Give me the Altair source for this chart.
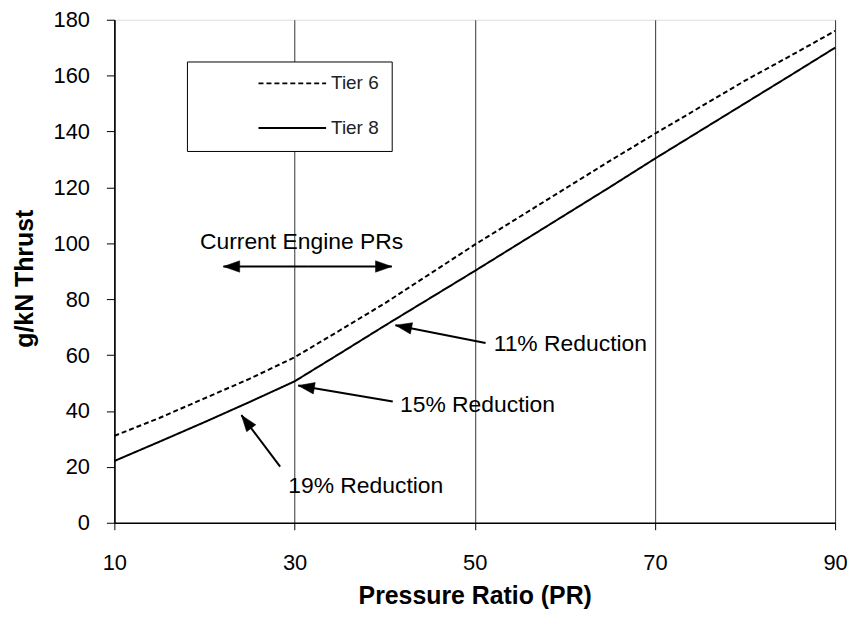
import math
import altair as alt
import pandas as pd

# ---- data ----
pressure_ratio = [10, 15, 20, 25, 30, 35, 40, 45, 50, 55, 60, 65, 70, 75, 80, 85, 90]
tier6 = [31.1, 37.5, 44.5, 51.5, 59.2, 68.8, 78.5, 89.0, 99.5, 109.5, 119.5, 129.5, 139.2, 148.7, 158.2, 167.0, 176.0]
tier8 = [22.1, 29.0, 36.0, 43.2, 50.6, 60.5, 70.5, 80.3, 90.1, 100.1, 110.1, 120.1, 130.3, 140.2, 150.1, 160.0, 170.0]
series_names = ["Tier 6", "Tier 8"]

x_ticks = [10, 30, 50, 70, 90]
y_ticks = [0, 20, 40, 60, 80, 100, 120, 140, 160, 180]

# annotations (data coordinates)
ann_text = ["Current Engine PRs", "11% Reduction", "15% Reduction", "19% Reduction"]
ann_x = [19.5, 52.1, 41.7, 29.3]
ann_y = [100.6, 63.9, 42.0, 13.1]

# arrows: tail -> tip (data coordinates)
arrow_x = [51.2, 40.9, 28.4, 31.5, 31.5]
arrow_y = [64.3, 43.4, 20.1, 91.7, 91.7]
arrow_x2 = [41.2, 30.4, 24.1, 22.1, 40.8]
arrow_y2 = [70.7, 49.1, 38.5, 91.7, 91.7]

W, H = 725, 506
FONT = "Liberation Sans"

lines_df = pd.DataFrame({
    "PR": pressure_ratio * 2,
    "value": tier6 + tier8,
    "series": [series_names[0]] * len(pressure_ratio) + [series_names[1]] * len(pressure_ratio),
})

x_scale = alt.Scale(domain=[10, 90], nice=False, zero=False)
y_scale = alt.Scale(domain=[0, 180], nice=False)

x_px = W / 80.0
y_px = H / 180.0
angles = []
for a, b, c, d in zip(arrow_x, arrow_y, arrow_x2, arrow_y2):
    dx = (c - a) * x_px
    dy = -(d - b) * y_px
    angles.append(math.degrees(math.atan2(dx, -dy)) % 360)

arrows_df = pd.DataFrame({"x": arrow_x, "y": arrow_y, "x2": arrow_x2, "y2": arrow_y2, "angle": angles})
ann_df = pd.DataFrame({"text": ann_text, "x": ann_x, "y": ann_y})

lines = alt.Chart(lines_df).mark_line(color="black", strokeWidth=2).encode(
    x=alt.X("PR:Q", scale=x_scale,
            axis=alt.Axis(values=x_ticks, title="Pressure Ratio (PR)", grid=True,
                          gridColor="#333333", gridWidth=1, tickSize=7, tickColor="black",
                          domainColor="black", domainWidth=1.5, labelFlush=False,
                          labelFont=FONT, labelFontSize=22, labelColor="black", labelPadding=23,
                          titleFont=FONT, titleFontSize=25, titleFontWeight="bold", titleColor="black",
                          titleY=81, titleBaseline="alphabetic")),
    y=alt.Y("value:Q", scale=y_scale,
            axis=alt.Axis(values=y_ticks, title="g/kN Thrust", grid=False, tickSize=8,
                          tickColor="black", domainColor="black", domainWidth=1.5, labelFlush=False,
                          labelFont=FONT, labelFontSize=22, labelColor="black", labelPadding=17,
                          titleFont=FONT, titleFontSize=25, titleFontWeight="bold", titleColor="black",
                          titleX=-82, titleY=260, titleAngle=270, titleBaseline="alphabetic",
                          titleAlign="center")),
    strokeDash=alt.StrokeDash("series:N",
                              scale=alt.Scale(domain=series_names, range=[[5, 3], [1, 0]]),
                              legend=alt.Legend(orient="none", legendX=73, legendY=42, title=None,
                                                symbolType="stroke", symbolSize=4624,
                                                symbolStrokeWidth=2, symbolStrokeColor="black",
                                                symbolOffset=58, labelOffset=4, padding=13,
                                                rowPadding=26, clipHeight=18,
                                                strokeColor="black", fillColor="white",
                                                labelFont=FONT, labelFontSize=19, labelColor="#222222")),
    detail="series:N",
)

shafts = alt.Chart(arrows_df).mark_rule(color="black", strokeWidth=2).encode(
    x=alt.X("x:Q", scale=x_scale), y=alt.Y("y:Q", scale=y_scale),
    x2="x2:Q", y2="y2:Q",
)

heads = alt.Chart(arrows_df).mark_point(
    shape="M0,0L-0.7,2L0.7,2Z", filled=True, fill="black", stroke="black", strokeWidth=0.5,
    size=270, opacity=1,
).encode(
    x=alt.X("x2:Q", scale=x_scale), y=alt.Y("y2:Q", scale=y_scale),
    angle=alt.Angle("angle:Q", scale=None),
)

texts = alt.Chart(ann_df).mark_text(
    align="left", baseline="middle", font=FONT, fontSize=23, color="black",
).encode(
    x=alt.X("x:Q", scale=x_scale), y=alt.Y("y:Q", scale=y_scale), text="text:N",
)

chart = alt.layer(lines, shafts, heads, texts).properties(
    width=W, height=H,
    padding={"left": 107, "top": 10, "right": 14, "bottom": 96},
    autosize=alt.AutoSizeParams(type="none"),
).configure_view(stroke="black", strokeWidth=1.5).configure(background="white")

chart.save("out.html", embed_options={"renderer": "svg", "actions": False})
